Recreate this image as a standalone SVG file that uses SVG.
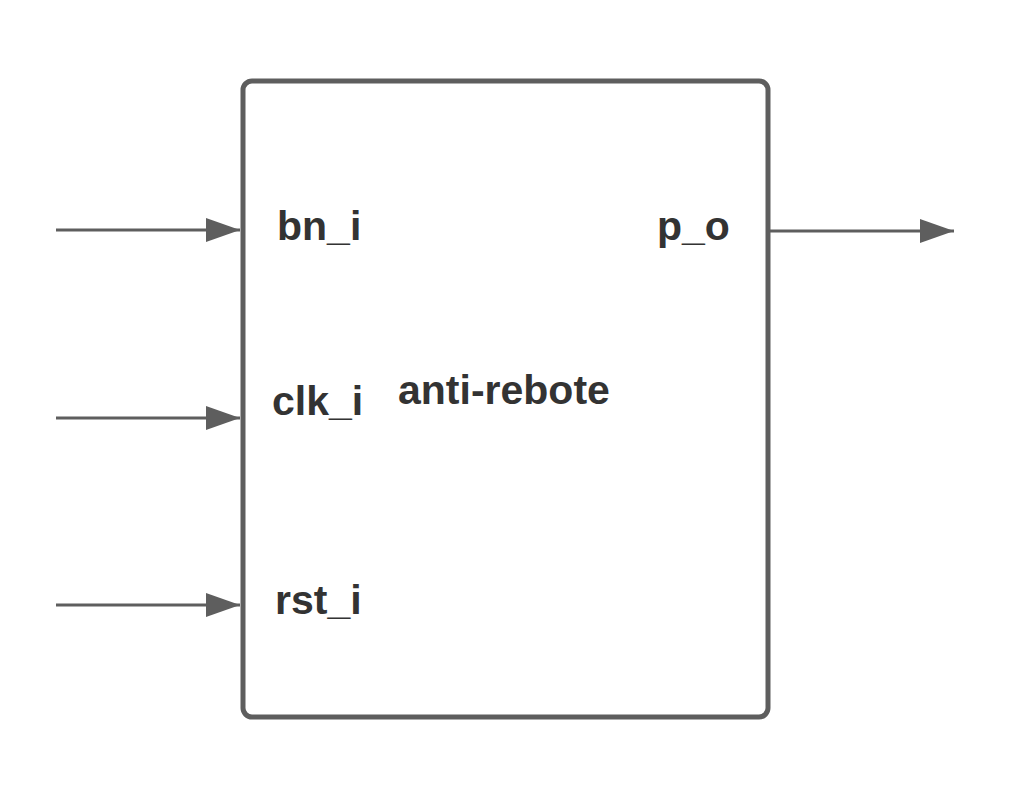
<svg xmlns="http://www.w3.org/2000/svg" width="1016" height="789" viewBox="0 0 1016 789">
<style>
.lbl{font-family:"Liberation Sans",Arial,sans-serif;font-weight:bold;font-size:41px;fill:#333333}
.wire{stroke:#5e5e5e;stroke-width:3;fill:none}
</style>
<defs>
<marker id="ah" markerUnits="userSpaceOnUse" markerWidth="34" markerHeight="24" refX="34" refY="12" orient="auto">
<path d="M0,0 L34,12 L0,24 Z" fill="#5e5e5e"/>
</marker>
</defs>
<rect width="1016" height="789" fill="#ffffff"/>
<g id="block">
<rect x="243" y="81" width="525" height="636" rx="9" fill="#ffffff" stroke="#5e5e5e" stroke-width="5"/>
<text class="lbl" x="277" y="240">bn_i</text>
<text class="lbl" x="272" y="415">clk_i</text>
<text class="lbl" x="275" y="614">rst_i</text>
<text class="lbl" x="657" y="240">p_o</text>
<text class="lbl" x="398" y="404">anti-rebote</text>
</g>
<g id="connectors">
<line class="wire" x1="56" y1="230" x2="240" y2="230" marker-end="url(#ah)"/>
<line class="wire" x1="56" y1="418" x2="240" y2="418" marker-end="url(#ah)"/>
<line class="wire" x1="56" y1="605" x2="240" y2="605" marker-end="url(#ah)"/>
<line class="wire" x1="770" y1="231" x2="954" y2="231" marker-end="url(#ah)"/>
</g>
</svg>
